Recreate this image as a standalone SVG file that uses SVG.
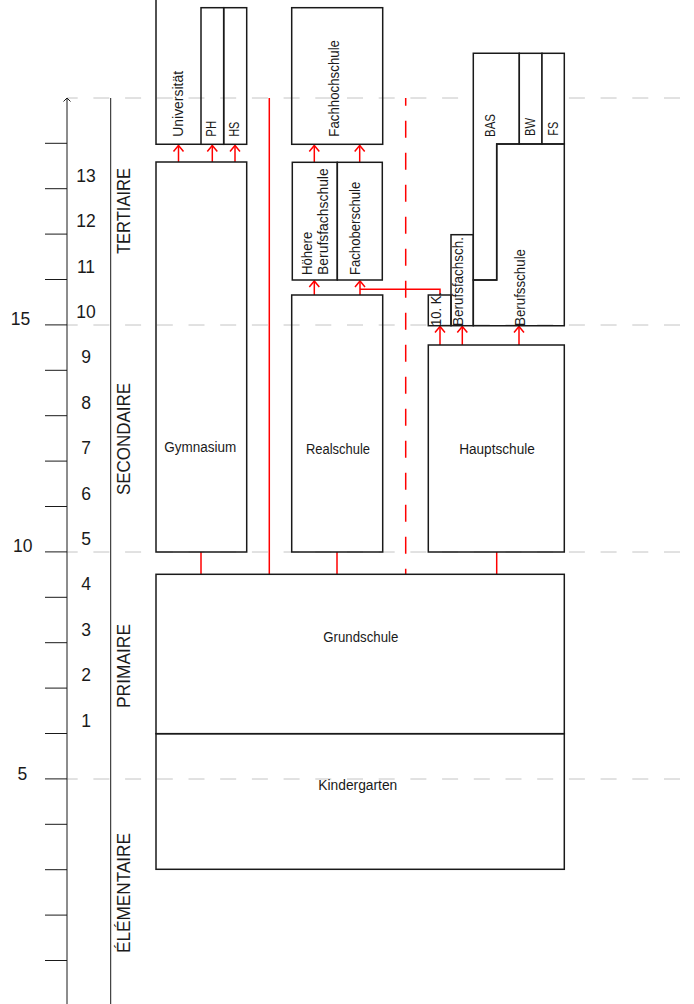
<svg xmlns="http://www.w3.org/2000/svg" width="694" height="1004" viewBox="0 0 694 1004">
<style>
.box{fill:none;stroke:#1a1a1a;stroke-width:1.5}
.wbox{fill:#fff;stroke:#1a1a1a;stroke-width:1.5}
.ax{stroke:#1a1a1a;stroke-width:1;fill:none}
.grid{stroke:#c4c4c4;stroke-width:1;stroke-dasharray:16 15.7;stroke-dashoffset:5.3;fill:none}
.red{stroke:#ff0000;stroke-width:1.5;fill:none}
.arr{stroke:#ff0000;stroke-width:1.5;fill:none;marker-end:url(#ah)}
.lbl{font-family:"Liberation Sans",Arial,sans-serif;font-size:14px;fill:#1a1a1a}
.num{font-family:"Liberation Sans",Arial,sans-serif;font-size:17.5px;fill:#1a1a1a;text-anchor:middle}
.sec{font-family:"Liberation Sans",Arial,sans-serif;font-size:18.5px;fill:#1a1a1a;text-anchor:middle}
.c{text-anchor:middle}
</style>
<defs>
<marker id="ah" markerUnits="userSpaceOnUse" markerWidth="20" markerHeight="20" refX="0" refY="0" orient="auto" viewBox="-10 -10 20 20" overflow="visible">
<path d="M-6,-5 L0,0 L-6,5" fill="none" stroke="#ff0000" stroke-width="1.5"/>
</marker>
</defs>
<rect width="694" height="1004" fill="#fff"/>

<g id="grid">
<line class="grid" x1="67" y1="98" x2="694" y2="98"/>
<line class="grid" x1="67" y1="325" x2="694" y2="325"/>
<line class="grid" x1="67" y1="552" x2="694" y2="552"/>
<line class="grid" x1="67" y1="779" x2="694" y2="779"/>
</g>

<g id="axis">
<line class="ax" x1="67" y1="98.5" x2="67" y2="1004"/>
<path class="ax" d="M63.5,101.5 L67,98 L70.5,101.5"/>
<line class="ax" x1="110.7" y1="98" x2="110.7" y2="1004"/>
<path class="ax" d="M45,143.3H67M45,188.7H67M45,234.1H67M45,279.5H67M45,324.9H67M45,370.3H67M45,415.7H67M45,461.1H67M45,506.5H67M45,551.9H67M45,597.3H67M45,642.7H67M45,688.1H67M45,733.5H67M45,778.9H67M45,824.3H67M45,869.7H67M45,915.1H67M45,960.5H67"/>
<text class="num" x="20.5" y="325">15</text>
<text class="num" x="22.8" y="552">10</text>
<text class="num" x="22.3" y="779.5">5</text>
<text class="num" x="86" y="181.7">13</text>
<text class="num" x="86" y="227.1">12</text>
<text class="num" x="86" y="272.5">11</text>
<text class="num" x="86" y="317.9">10</text>
<text class="num" x="86" y="363.3">9</text>
<text class="num" x="86" y="408.7">8</text>
<text class="num" x="86" y="454.1">7</text>
<text class="num" x="86" y="499.5">6</text>
<text class="num" x="86" y="544.9">5</text>
<text class="num" x="86" y="590.3">4</text>
<text class="num" x="86" y="635.7">3</text>
<text class="num" x="86" y="681.1">2</text>
<text class="num" x="86" y="726.5">1</text>
<text class="sec" transform="translate(129.5,211) rotate(-90)" textLength="86" lengthAdjust="spacingAndGlyphs">TERTIAIRE</text>
<text class="sec" transform="translate(129.5,439) rotate(-90)" textLength="112" lengthAdjust="spacingAndGlyphs">SECONDAIRE</text>
<text class="sec" transform="translate(129.5,666) rotate(-90)" textLength="84" lengthAdjust="spacingAndGlyphs">PRIMAIRE</text>
<text class="sec" transform="translate(129.5,893) rotate(-90)" textLength="120" lengthAdjust="spacingAndGlyphs">ÉLÉMENTAIRE</text>
</g>

<g id="connectors">
<line class="red" x1="269.3" y1="98" x2="269.3" y2="574.3"/>
<line class="red" x1="405.7" y1="98" x2="405.7" y2="574.3" stroke-dasharray="17 15" stroke-dashoffset="9.3"/>
<path class="arr" d="M178.5,162 V145.5"/>
<path class="arr" d="M212.3,162 V145.5"/>
<path class="arr" d="M235,162 V145.5"/>
<path class="arr" d="M314.3,162.3 V145.5"/>
<path class="arr" d="M359.7,162.3 V145.5"/>
<path class="arr" d="M314.3,295 V281"/>
<path class="arr" d="M360,295 V281"/>
<path class="red" d="M440,295 V289.3 H360"/>
<path class="arr" d="M440,345 V326.5"/>
<path class="arr" d="M462.3,345 V326.5"/>
<path class="arr" d="M519,345 V326.5"/>
<line class="red" x1="201" y1="552" x2="201" y2="574.3"/>
<line class="red" x1="337" y1="552" x2="337" y2="574.3"/>
<line class="red" x1="496.7" y1="552" x2="496.7" y2="574.3"/>
</g>

<g id="universitaet">
<path class="box" d="M156,0 V144.3 H201"/>
<text class="lbl" transform="translate(183.3,136.7) rotate(-90)" textLength="65.7" lengthAdjust="spacingAndGlyphs">Universität</text>
</g>
<g id="ph">
<rect class="box" x="201" y="7.7" width="22.7" height="136.6"/>
<text class="lbl" transform="translate(215.7,136.7) rotate(-90)" textLength="16" lengthAdjust="spacingAndGlyphs">PH</text>
</g>
<g id="hs">
<rect class="box" x="223.7" y="7.7" width="23" height="136.6"/>
<text class="lbl" transform="translate(239.3,136.7) rotate(-90)" textLength="15" lengthAdjust="spacingAndGlyphs">HS</text>
</g>
<g id="fachhochschule">
<rect class="box" x="291.7" y="7.7" width="91" height="136.6"/>
<text class="lbl" transform="translate(339,136.7) rotate(-90)" textLength="96.7" lengthAdjust="spacingAndGlyphs">Fachhochschule</text>
</g>
<g id="gymnasium">
<rect class="box" x="156" y="162" width="90.7" height="390"/>
<text class="lbl c" x="200.3" y="452" textLength="72" lengthAdjust="spacingAndGlyphs">Gymnasium</text>
</g>
<g id="hoehere-berufsfachschule">
<rect class="box" x="292.3" y="162.3" width="45" height="117.7"/>
<text class="lbl" transform="translate(312.3,275) rotate(-90)" textLength="43.3" lengthAdjust="spacingAndGlyphs">Höhere</text>
<text class="lbl" transform="translate(328.3,275) rotate(-90)" textLength="106.7" lengthAdjust="spacingAndGlyphs">Berufsfachschule</text>
</g>
<g id="fachoberschule">
<rect class="box" x="337.3" y="162.3" width="45" height="117.7"/>
<text class="lbl" transform="translate(360,275) rotate(-90)" textLength="93.3" lengthAdjust="spacingAndGlyphs">Fachoberschule</text>
</g>
<g id="realschule">
<rect class="box" x="291.7" y="295" width="91" height="257"/>
<text class="lbl c" x="338" y="454" textLength="64" lengthAdjust="spacingAndGlyphs">Realschule</text>
</g>
<g id="zehnte-klasse">
<rect class="box" x="428.3" y="295" width="22.7" height="30.7"/>
<text class="lbl" transform="translate(440.5,326) rotate(-90)" textLength="34" lengthAdjust="spacingAndGlyphs">10. K.</text>
</g>
<g id="berufsfachschule">
<rect class="box" x="451" y="234.7" width="22.3" height="91"/>
<text class="lbl" transform="translate(463.3,326) rotate(-90)" textLength="89" lengthAdjust="spacingAndGlyphs">Berufsfachsch.</text>
</g>
<g id="bas">
<polygon class="wbox" points="473.3,53.3 519.3,53.3 519.3,144 496.7,144 496.7,280 473.3,280"/>
<text class="lbl" transform="translate(495,137) rotate(-90)" textLength="23" lengthAdjust="spacingAndGlyphs">BAS</text>
</g>
<g id="bw">
<rect class="wbox" x="519.3" y="53.3" width="22.7" height="90.7"/>
<text class="lbl" transform="translate(535,136) rotate(-90)" textLength="18" lengthAdjust="spacingAndGlyphs">BW</text>
</g>
<g id="fs">
<rect class="wbox" x="542" y="53.3" width="22.3" height="90.7"/>
<text class="lbl" transform="translate(558.3,135.7) rotate(-90)" textLength="14" lengthAdjust="spacingAndGlyphs">FS</text>
</g>
<g id="berufsschule">
<polygon class="box" points="496.7,144 564.3,144 564.3,325.7 473.3,325.7 473.3,280 496.7,280"/>
<text class="lbl" transform="translate(525,326) rotate(-90)" textLength="77" lengthAdjust="spacingAndGlyphs">Berufsschule</text>
</g>
<g id="hauptschule">
<rect class="box" x="428.3" y="345" width="136" height="207"/>
<text class="lbl c" x="497" y="454" textLength="75.7" lengthAdjust="spacingAndGlyphs">Hauptschule</text>
</g>
<g id="grundschule">
<rect class="box" x="156" y="574.3" width="408.3" height="159.4"/>
<text class="lbl c" x="360.8" y="641.7" textLength="75" lengthAdjust="spacingAndGlyphs">Grundschule</text>
</g>
<g id="kindergarten">
<rect class="box" x="156" y="733.7" width="408.3" height="135.6"/>
<text class="lbl c" x="357.8" y="790" textLength="79" lengthAdjust="spacingAndGlyphs">Kindergarten</text>
</g>
</svg>
